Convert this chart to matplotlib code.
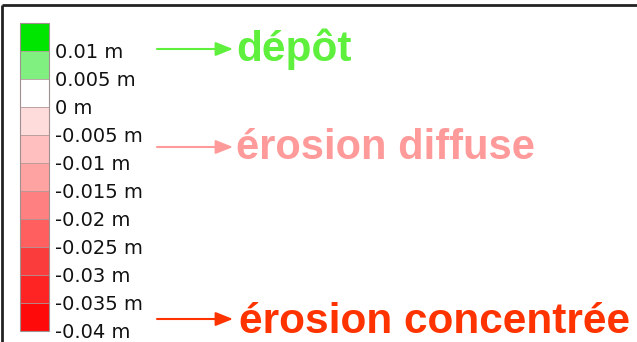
import matplotlib
matplotlib.use("Agg")
import matplotlib.pyplot as plt
from matplotlib.colors import ListedColormap, BoundaryNorm
from matplotlib.cm import ScalarMappable

# legend classes, from bottom (reddest) to top (green)
levels = [-0.04, -0.035, -0.03, -0.025, -0.02, -0.015, -0.01, -0.005, 0, 0.005, 0.01]
bounds = [-0.04, -0.035, -0.03, -0.025, -0.02, -0.015, -0.01, -0.005, 0, 0.005, 0.01, 0.015]
labels = ["-0.04 m", "-0.035 m", "-0.03 m", "-0.025 m", "-0.02 m", "-0.015 m",
          "-0.01 m", "-0.005 m", "0 m", "0.005 m", "0.01 m"]
colors = ["#ff0a0a", "#ff2424", "#fa3c3c", "#ff5f5f", "#ff8080", "#ffa2a2",
          "#ffbfbf", "#ffdcdc", "#ffffff", "#80f080", "#00e600"]

# annotation texts
notes = ["dépôt", "érosion diffuse", "érosion concentrée"]
note_colors = ["#5ef03c", "#ff9a9a", "#ff3300"]
note_sizes = [30.5, 30, 30.5]

fig = plt.figure(figsize=(6.37, 3.42), dpi=100)
fig.patch.set_facecolor("white")

# background axes in pixel units for frame + arrows + texts
ax = fig.add_axes([0, 0, 1, 1])
ax.set_xlim(0, 637)
ax.set_ylim(342, 0)
ax.axis("off")
ax.plot([2, 637], [5, 5], color="#222222", lw=2, solid_capstyle="butt")
ax.plot([2, 2], [5, 342], color="#222222", lw=2, solid_capstyle="butt")

arrow_y = [49, 147, 319]
text_x = [236, 236, 239]
text_base = [61, 159, 333]
for i in range(3):
    ax.annotate("", xy=(233, arrow_y[i]), xytext=(157, arrow_y[i]),
                arrowprops=dict(arrowstyle="-|>,head_length=0.75,head_width=0.3",
                                color=note_colors[i], lw=1.5, mutation_scale=14,
                                shrinkA=0, shrinkB=0))
    ax.text(text_x[i], text_base[i], notes[i], color=note_colors[i],
            fontsize=note_sizes[i], fontweight="bold", family="Liberation Sans",
            va="baseline", ha="left")

# colour legend
cax = fig.add_axes([20 / 637, 11 / 342, 29 / 637, 308 / 342])
cmap = ListedColormap(colors)
norm = BoundaryNorm(bounds, cmap.N)
cb = fig.colorbar(ScalarMappable(norm=norm, cmap=cmap), cax=cax, ticks=levels,
                  spacing="uniform", drawedges=True)
cb.ax.minorticks_off()
cb.ax.set_yticklabels(labels)
cb.outline.set_edgecolor("#a09090")
cb.outline.set_linewidth(0.8)
cb.dividers.set_color("#b09a9a")
cb.dividers.set_linewidth(0.6)
cb.ax.tick_params(length=0, pad=4.5, labelsize=14, labelcolor="#111111")
for t in cb.ax.get_yticklabels():
    t.set_family("DejaVu Sans")

fig.savefig("out.png", dpi=100)
